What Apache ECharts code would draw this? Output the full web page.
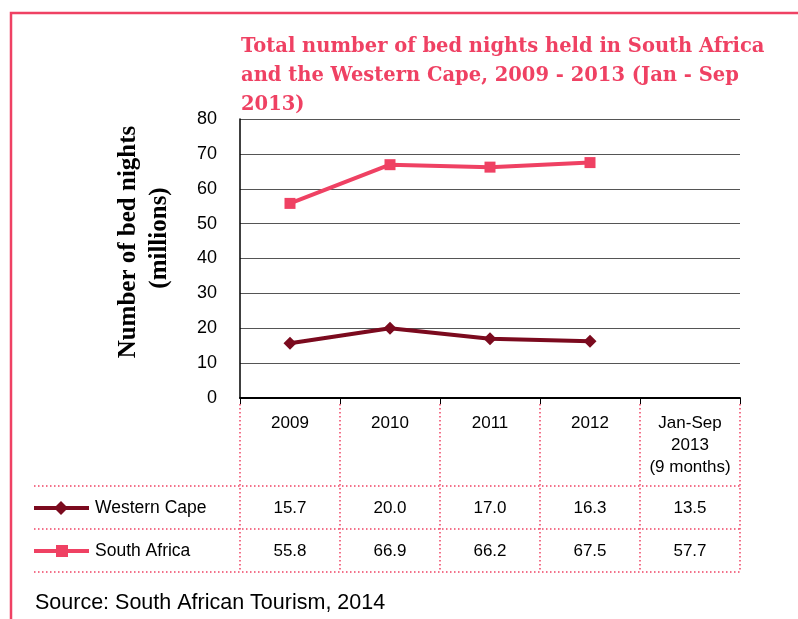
<!DOCTYPE html>
<html>
<head>
<meta charset="UTF-8">
<title>Bed nights</title>
<script src="https://cdn.jsdelivr.net/npm/echarts@6/dist/echarts.min.js"></script>
<style>
  html, body { margin: 0; padding: 0; background: #fff; }
  #container { width: 798px; height: 619px; }
</style>
</head>
<body>
<div id="container"></div>
<script>
// data
var categories = ['2009', '2010', '2011', '2012', 'Jan-Sep\n2013\n(9 months)'];
var westernCape = [15.7, 20.0, 17.0, 16.3, 13.5];
var southAfrica = [55.8, 66.9, 66.2, 67.5, 57.7];
var plottedCount = 4; // the 2013 part-year figure is only in the table
var yTicks = [0, 10, 20, 30, 40, 50, 60, 70, 80];

var pink = '#ef4163';
var maroon = '#7b0a1e';

function lineData(arr) {
    return arr.map(function (v, i) { return i < plottedCount ? v : null; });
}

var chart = echarts.init(document.getElementById('container'));

var option = {
    animation: false,
    title: {
        text: 'Total number of bed nights held in South Africa\nand the Western Cape, 2009 - 2013 (Jan - Sep\n2013)',
        left: 236,
        top: 27,
        textStyle: {
            fontFamily: 'DejaVu Serif',
            fontWeight: 'bold',
            fontSize: 19.5,
            lineHeight: 29,
            color: pink
        }
    },
    grid: { left: 240, right: 58, top: 119, bottom: 221 },
    xAxis: {
        type: 'category',
        data: categories,
        boundaryGap: true,
        axisLine: { lineStyle: { color: '#000', width: 2 } },
        axisTick: { show: true, length: 6, lineStyle: { color: '#000', width: 1 } },
        axisLabel: {
            color: '#000', fontFamily: 'Liberation Sans', fontSize: 17,
            lineHeight: 22, margin: 14, interval: 0
        },
        splitLine: { show: false }
    },
    yAxis: {
        type: 'value',
        min: yTicks[0],
        max: yTicks[yTicks.length - 1],
        interval: 10,
        axisLine: { show: true, lineStyle: { color: '#000', width: 1.5 } },
        axisTick: { show: false },
        axisLabel: { color: '#000', fontFamily: 'Liberation Sans', fontSize: 18, margin: 23 },
        splitLine: { lineStyle: { color: '#555', width: 1 } }
    },
    series: [
        {
            name: 'Western Cape',
            type: 'line',
            data: lineData(westernCape),
            symbol: 'diamond',
            symbolSize: 13,
            lineStyle: { color: maroon, width: 4 },
            itemStyle: { color: maroon },
            z: 3
        },
        {
            name: 'South Africa',
            type: 'line',
            data: lineData(southAfrica),
            symbol: 'rect',
            symbolSize: 11,
            lineStyle: { color: pink, width: 4 },
            itemStyle: { color: pink },
            z: 3
        }
    ]
};

chart.setOption(option);

// table under the chart, placed from the category axis
function buildTable() {
    var els = [];
    var dot = { stroke: pink, lineWidth: 1.5, lineDash: [1.5, 2.5] };
    var x0 = chart.convertToPixel({ xAxisIndex: 0 }, categories[0]);
    var x1 = chart.convertToPixel({ xAxisIndex: 0 }, categories[1]);
    var band = x1 - x0;
    var left = x0 - band / 2;
    var right = chart.convertToPixel({ xAxisIndex: 0 }, categories[categories.length - 1]) + band / 2;
    var yZero = chart.convertToPixel({ yAxisIndex: 0 }, 0);
    var rowLines = [486, 529, 572];
    var rowMid = [508, 551];
    var tableLeft = 34;

    // page border
    els.push({ type: 'polyline', shape: { points: [[11, 640], [11, 13], [800, 13]] },
        style: { stroke: pink, lineWidth: 2.5, fill: null }, silent: true });

    // y axis name
    els.push({ type: 'text', x: 129, y: 242, rotation: Math.PI / 2,
        style: { text: 'Number of bed nights', font: 'bold 25px "Liberation Serif"', fill: '#000',
            align: 'center', verticalAlign: 'middle' } });
    els.push({ type: 'text', x: 160, y: 238, rotation: Math.PI / 2,
        style: { text: '(millions)', font: 'bold 25px "Liberation Serif"', fill: '#000',
            align: 'center', verticalAlign: 'middle' } });

    // horizontal dotted rules
    rowLines.forEach(function (y) {
        els.push({ type: 'line', shape: { x1: tableLeft, y1: y, x2: right, y2: y }, style: dot, silent: true });
    });
    // vertical dotted rules
    for (var i = 0; i <= categories.length; i++) {
        var x = left + band * i;
        els.push({ type: 'line', shape: { x1: x, y1: yZero + 6, x2: x, y2: rowLines[2] }, style: dot, silent: true });
    }

    var rows = [
        { name: 'Western Cape', values: westernCape, color: maroon, symbol: 'diamond' },
        { name: 'South Africa', values: southAfrica, color: pink, symbol: 'rect' }
    ];
    rows.forEach(function (r, ri) {
        var y = rowMid[ri];
        els.push({ type: 'line', shape: { x1: tableLeft, y1: y, x2: 89, y2: y },
            style: { stroke: r.color, lineWidth: 4 } });
        if (r.symbol === 'diamond') {
            els.push({ type: 'polygon', shape: { points: [[61, y - 7], [68, y], [61, y + 7], [54, y]] },
                style: { fill: r.color } });
        } else {
            els.push({ type: 'rect', shape: { x: 56, y: y - 6, width: 12, height: 12 },
                style: { fill: r.color } });
        }
        els.push({ type: 'text', x: 95, y: y,
            style: { text: r.name, font: '17.5px "Liberation Sans"', fill: '#000', verticalAlign: 'middle' } });
        r.values.forEach(function (v, ci) {
            var cx = chart.convertToPixel({ xAxisIndex: 0 }, categories[ci]);
            els.push({ type: 'text', x: cx, y: y,
                style: { text: v.toFixed(1), font: '17px "Liberation Sans"', fill: '#000',
                    align: 'center', verticalAlign: 'middle' } });
        });
    });

    els.push({ type: 'text', x: 35, y: 603,
        style: { text: 'Source: South African Tourism, 2014', font: '21.5px "Liberation Sans"', fill: '#000',
            verticalAlign: 'middle' } });

    chart.setOption({ graphic: { elements: els } });
}

buildTable();
</script>
</body>
</html>
